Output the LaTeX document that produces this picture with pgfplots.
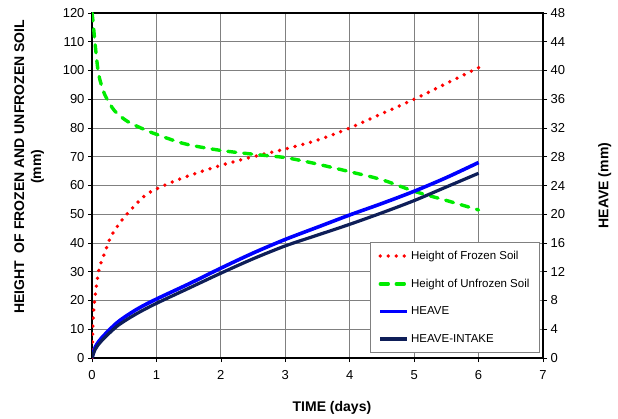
\documentclass[border=0pt]{standalone}
\usepackage{fontspec}
\setmainfont{Liberation Sans}
\usepackage{pgfplots}
\usepackage{pgfplotstable}
\pgfplotsset{compat=1.18}
\usetikzlibrary{calc}

\definecolor{frozen}{RGB}{255,0,0}
\definecolor{unfrozen}{RGB}{0,235,0}
\definecolor{heave}{RGB}{0,0,255}
\definecolor{intake}{RGB}{14,30,88}

% time (days) vs height (mm)
\pgfplotstableread{
t h
0 0
0.016 13
0.04 20
0.068 25
0.11 31
0.2 36.7
0.3 42.5
0.48 48.4
0.79 55.9
1 58.8
1.44 62.9
2 67
2.48 69.9
3 72.7
3.5 75.8
4 80
4.5 85
5 90
5.5 95.5
6 101
}\frozentab
\pgfplotstableread{
t h
0 120
0.016 117
0.047 109.5
0.093 100
0.12 97
0.2 91.5
0.35 86
0.55 82.3
0.8 79.6
1 77.8
1.44 74.5
2 72.2
2.58 70.7
3 69.7
3.43 67.8
4 64.8
4.5 62
5 58
5.5 54.8
6 51.5
}\unfrozentab
% time (days) vs heave (mm)
\pgfplotstableread{
t h
0 0
0.05 1.5
0.15 2.8
0.4 5.0
0.7 6.8
1 8.2
1.5 10.3
2 12.5
2.5 14.6
3 16.5
3.5 18.2
4 19.9
4.5 21.5
5 23.2
5.5 25.1
6 27.2
}\heavetab
\pgfplotstableread{
t h
0 0
0.05 1.2
0.15 2.4
0.4 4.5
0.7 6.2
1 7.6
1.5 9.7
2 11.8
2.5 13.8
3 15.6
3.5 17.1
4 18.6
4.5 20.2
5 21.9
5.5 23.8
6 25.7
}\intaketab

\pgfplotsset{
  base/.style={
    scale only axis, width=451pt, height=345pt,
    xmin=0, xmax=7, ymin=0,
    tick align=outside, major tick length=4pt,
    tick style={black, line width=0.6pt},
    tick label style={font=\fontsize{13}{15}\selectfont},
    xticklabel style={yshift=-5pt},
    /pgf/number format/assume math mode=true,
    label style={font=\bfseries\fontsize{14}{17}\selectfont},
    axis line style={line width=1.6pt, black},
  },
  dotline/.style={frozen, line width=3.8pt, line cap=round, dash pattern=on 0pt off 8pt},
  dashline/.style={unfrozen, line width=3.4pt, line cap=round, dash pattern=on 8pt off 8pt},
}

\begin{document}
\begin{tikzpicture}
\begin{axis}[base, name=ax,
  ymax=120,
  xtick={0,...,7}, ytick={0,10,...,120},
  xtick pos=bottom, ytick pos=left,
  grid=major, major grid style={black!50, line width=0.8pt},
  xlabel={TIME (days)},
  ylabel={HEIGHT\ \ OF FROZEN AND UNFROZEN SOIL\\(mm)},
  xlabel style={at={(axis description cs:0.532,-0.145)}, anchor=center},
  ylabel style={at={(axis description cs:-0.139,0.554)}, anchor=center, align=center},
]
\addplot[dotline, smooth, tension=0.5] table[x=t,y=h] {\frozentab};
\addplot[dashline, smooth, tension=0.5] table[x=t,y=h] {\unfrozentab};
\end{axis}

\begin{axis}[base,
  ymax=48, ytick={0,4,...,48},
  axis y line*=right, axis x line=none,
  ylabel={HEAVE (mm)},
  ylabel style={at={(axis description cs:1.137,0.5)}, anchor=center},
  legend cell align=left,
  legend image code/.code={\draw[#1] (0pt,0pt) -- (27pt,0pt);},
  legend style={at={(axis description cs:0.993,0.0145)}, anchor=south east,
    draw=black!50, line width=0.8pt, fill=white,
    font=\fontsize{11.5}{13}\selectfont,
    inner xsep=8pt, inner ysep=7pt, row sep=14pt},
]
\addlegendimage{dotline}
\addlegendentry{Height of Frozen Soil}
\addlegendimage{dashline}
\addlegendentry{Height of Unfrozen Soil}
\addplot[heave, line width=3.6pt, smooth, tension=0.5] table[x=t,y=h] {\heavetab};
\addlegendentry{HEAVE}
\addplot[intake, line width=3.2pt, smooth, tension=0.5] table[x=t,y=h] {\intaketab};
\addlegendentry{HEAVE-INTAKE}
\end{axis}

\path ($(ax.south west)+(-92pt,-60pt)$) rectangle ($(ax.north east)+(75pt,13pt)$);
\end{tikzpicture}
\end{document}
